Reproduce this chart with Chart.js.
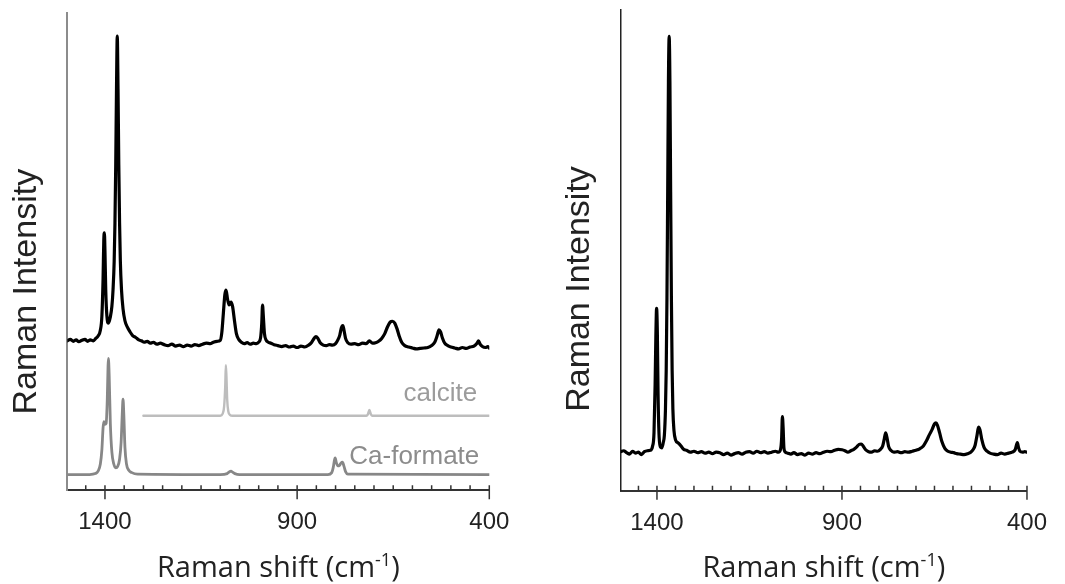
<!DOCTYPE html>
<html>
<head>
<meta charset="utf-8">
<script src="https://cdn.jsdelivr.net/npm/chart.js@4"></script>
<style>
  html, body { margin: 0; padding: 0; background: #fff; }
  #wrap { position: relative; width: 1065px; height: 584px; overflow: hidden; }
  canvas { position: absolute; top: 0; }
  #left { left: 0; }
  #right { left: 532px; }
</style>
</head>
<body>
<div id="wrap">
  <canvas id="left" width="532" height="584"></canvas>
  <canvas id="right" width="533" height="584"></canvas>
</div>
<script>
// tick positions (Raman shift, cm-1)
var majorTicks = [1400, 900, 400];
var minorTicks = [1450, 1350, 1300, 1250, 1200, 1150, 1100, 1050, 1000, 950,
                  850, 800, 750, 700, 650, 600, 550, 500, 450];

// left panel: sample spectrum, stacked above the references [shift, intensity]
var leftSample = [
  [1498, 31.3], [1490, 31.6], [1482, 31.2], [1475, 31.5], [1468, 31.1], [1460, 31.4],
  [1452, 31.6], [1445, 31.2], [1438, 31.5], [1430, 31.3], [1424, 31.8], [1418, 32.3],
  [1412, 33.5], [1408, 36.5], [1405, 44], [1403, 52.5], [1401.5, 53.9], [1400, 50],
  [1398, 42], [1395, 36.5], [1391, 35.0], [1386, 36.3], [1382, 38.5], [1379, 42],
  [1376, 48], [1374, 56], [1372, 68], [1370, 84], [1368, 95.1], [1366, 84],
  [1364, 68], [1362, 56], [1360, 48], [1357, 42], [1353, 38], [1348, 35.5],
  [1342, 34.2], [1335, 33.2], [1328, 32.4], [1320, 32.0], [1312, 31.5], [1305, 31.3],
  [1298, 31.0], [1290, 31.2], [1282, 30.8], [1274, 31.0], [1265, 30.6], [1256, 30.8],
  [1246, 30.5], [1236, 30.3], [1226, 30.6], [1216, 30.2], [1206, 30.4], [1196, 30.1],
  [1186, 30.4], [1176, 30.2], [1166, 30.5], [1156, 30.3], [1146, 30.6], [1136, 30.8],
  [1126, 30.7], [1118, 31.0], [1108, 31.2], [1100, 31.4], [1096, 33.0], [1092, 37],
  [1088, 41.0], [1085, 41.9], [1081, 40.0], [1077, 38.8], [1072, 39.4], [1068, 38.5],
  [1063, 35.5], [1058, 32.8], [1052, 31.6], [1045, 31.0], [1038, 30.7], [1030, 30.9],
  [1022, 30.6], [1014, 30.8], [1006, 30.7], [1000, 31.0], [995, 32.0], [992, 35.0],
  [990, 38.8], [988, 36.5], [985, 32.8], [981, 31.5], [975, 31.0], [968, 30.8],
  [960, 30.5], [950, 30.3], [940, 30.1], [930, 30.3], [920, 30.0], [910, 30.2],
  [900, 29.9], [890, 30.2], [880, 30.0], [870, 30.4], [862, 31.0], [856, 31.8],
  [851, 32.2], [846, 31.8], [840, 30.9], [832, 30.4], [824, 30.3], [816, 30.5],
  [808, 30.4], [800, 30.7], [794, 31.5], [789, 32.5], [785, 34.0], [781, 34.5],
  [778, 33.5], [774, 31.8], [768, 30.9], [760, 30.6], [750, 30.7], [740, 30.5],
  [730, 30.8], [720, 30.7], [712, 31.3], [704, 30.8], [696, 30.9], [688, 31.2],
  [680, 31.8], [672, 32.8], [665, 34.2], [658, 35.2], [652, 35.4], [646, 35.0],
  [640, 33.8], [634, 32.2], [628, 31.0], [620, 30.3], [610, 30.0], [600, 29.8],
  [590, 29.6], [580, 29.7], [570, 29.8], [560, 29.9], [550, 30.3], [542, 31.0],
  [536, 32.3], [531, 33.6], [527, 33.2], [522, 31.9], [516, 30.8], [508, 30.3],
  [500, 30.0], [490, 29.8], [480, 29.6], [470, 29.9], [460, 29.7], [450, 30.0],
  [440, 30.2], [432, 30.8], [428, 31.3], [424, 30.6], [418, 30.1], [410, 29.9],
  [404, 30.1], [400, 29.8]
];
var leftCalcite = [
  [1300, 15.6], [1100, 15.6], [1094, 16.0], [1090, 17.5], [1087, 22], [1085.5, 26.2],
  [1084, 24], [1082, 19], [1079, 16.5], [1075, 15.8], [1068, 15.6], [720, 15.6],
  [716, 15.9], [712, 16.8], [708, 15.9], [704, 15.6], [400, 15.6]
];
var leftFormate = [
  [1498, 3.3], [1440, 3.3], [1425, 3.5], [1418, 4.0], [1412, 5.5], [1408, 8.5],
  [1405, 13], [1403, 14.4], [1400, 13.8], [1397, 14.0], [1394, 19], [1392, 26],
  [1391, 27.6], [1389, 24], [1386, 14], [1382, 8], [1377, 5.5], [1372, 4.7],
  [1367, 5.0], [1362, 6.5], [1358, 10], [1355, 16], [1353, 19.1], [1351, 16],
  [1348, 9], [1344, 5.5], [1338, 4.2], [1330, 3.7], [1315, 3.4], [1100, 3.3],
  [1082, 3.5], [1076, 3.9], [1072, 4.0], [1068, 3.8], [1062, 3.5], [1050, 3.3],
  [820, 3.3], [810, 3.7], [806, 4.8], [803, 6.3], [801, 6.8], [798, 5.8],
  [794, 5.1], [790, 5.2], [786, 5.7], [782, 5.9], [778, 5.0], [774, 3.9],
  [768, 3.4], [400, 3.3]
];

// right panel: second sample spectrum
var rightSample = [
  [1498, 8.1], [1490, 8.3], [1482, 7.9], [1474, 7.6], [1466, 8.2], [1458, 7.8],
  [1450, 8.0], [1442, 7.5], [1434, 8.1], [1426, 8.3], [1418, 8.4], [1412, 9.2],
  [1408, 12], [1405, 22], [1403, 32], [1401, 37.9], [1399, 33], [1397, 20],
  [1394, 11], [1390, 9.0], [1387, 8.9], [1383, 10.0], [1380, 11.5], [1377, 17],
  [1375, 25], [1373, 40], [1371, 62], [1369, 85], [1367, 94.4], [1365, 85],
  [1363, 62], [1361, 40], [1359, 25], [1357, 17], [1354, 12.5], [1350, 10.6],
  [1342, 9.9], [1335, 9.3], [1328, 8.6], [1320, 8.4], [1310, 8.0], [1300, 8.2],
  [1290, 7.9], [1280, 8.1], [1270, 7.8], [1260, 8.0], [1250, 7.7], [1240, 8.0],
  [1230, 7.9], [1220, 7.5], [1210, 7.8], [1200, 7.4], [1190, 7.7], [1180, 7.9],
  [1170, 7.6], [1160, 8.0], [1150, 8.1], [1140, 7.8], [1130, 8.2], [1120, 7.9],
  [1110, 8.1], [1100, 7.8], [1090, 8.0], [1080, 8.2], [1072, 8.0], [1066, 8.6],
  [1063, 11], [1061, 15.4], [1059, 13], [1057, 9.0], [1054, 8.1], [1046, 7.8],
  [1038, 7.6], [1030, 7.9], [1020, 7.5], [1010, 7.7], [1000, 7.4], [990, 7.8],
  [980, 7.6], [970, 7.9], [960, 7.7], [950, 8.0], [940, 8.2], [930, 8.1],
  [920, 8.4], [910, 8.6], [900, 8.5], [892, 8.3], [884, 8.0], [876, 8.3],
  [868, 8.6], [860, 9.1], [854, 9.6], [848, 9.7], [842, 9.2], [836, 8.5],
  [828, 8.1], [820, 8.0], [812, 8.3], [804, 8.2], [796, 8.6], [790, 9.3],
  [786, 10.6], [782, 12.0], [778, 10.9], [774, 9.2], [768, 8.4], [760, 8.0],
  [750, 8.1], [740, 7.9], [730, 8.1], [720, 8.0], [710, 8.2], [700, 8.4],
  [690, 8.7], [680, 9.3], [672, 10.3], [664, 11.6], [656, 12.8], [650, 13.9],
  [646, 14.1], [642, 13.6], [636, 12.0], [630, 10.2], [622, 8.8], [614, 8.2],
  [606, 8.0], [598, 7.9], [590, 7.7], [580, 7.6], [570, 7.5], [560, 7.7],
  [552, 8.0], [545, 8.6], [540, 9.5], [535, 11.5], [531, 13.2], [527, 12.6],
  [522, 10.6], [516, 9.0], [508, 8.2], [500, 7.8], [490, 7.6], [480, 7.5],
  [470, 7.8], [460, 7.6], [450, 7.8], [440, 8.0], [432, 8.5], [428, 9.6],
  [426, 10.0], [423, 9.0], [419, 8.2], [412, 8.0], [406, 8.1], [400, 8.0]
];

function toPoints(pairs) {
    return pairs.map(function (p) { return { x: p[0], y: p[1] }; });
}

function line(pairs, color, width) {
    return {
        data: toPoints(pairs),
        borderColor: color,
        borderWidth: width,
        borderJoinStyle: 'round',
        borderCapStyle: 'round',
        // monotone keeps the curve through the points and avoids the fast path artefacts
        cubicInterpolationMode: 'monotone',
        pointRadius: 0,
        fill: false
    };
}

// minor/major tick marks, axis titles and the reference labels
var panelText = {
    id: 'panelText',
    afterDraw: function (chart, args, o) {
        var ctx = chart.ctx;
        var xs = chart.scales.x;
        var area = chart.chartArea;
        var axisY = area.bottom;
        ctx.save();
        ctx.strokeStyle = o.tickColor;
        ctx.lineWidth = 1.5;
        ctx.beginPath();
        minorTicks.forEach(function (v) {
            var px = xs.getPixelForValue(v);
            ctx.moveTo(px, axisY - 5);
            ctx.lineTo(px, axisY);
        });
        majorTicks.forEach(function (v) {
            var px = xs.getPixelForValue(v);
            ctx.moveTo(px, axisY - 5);
            ctx.lineTo(px, axisY + 9);
        });
        ctx.stroke();

        ctx.fillStyle = '#222';
        ctx.font = '34px "Liberation Sans", Arial, sans-serif';
        ctx.textAlign = 'center';
        ctx.textBaseline = 'alphabetic';
        ctx.save();
        ctx.translate(o.yTitle[0], o.yTitle[1]);
        ctx.rotate(-Math.PI / 2);
        ctx.fillText('Raman Intensity', 0, 0);
        ctx.restore();

        var big = '29px "Open Sans", sans-serif';
        var small = '18px "Open Sans", sans-serif';
        ctx.textAlign = 'left';
        ctx.font = big;
        var w1 = ctx.measureText('Raman shift (cm').width;
        var w3 = ctx.measureText(')').width;
        ctx.font = small;
        var w2 = ctx.measureText('-1').width;
        var x0 = (area.left + area.right) / 2 - (w1 + w2 + w3) / 2;
        ctx.font = big;
        ctx.fillText('Raman shift (cm', x0, o.xTitleY);
        ctx.font = small;
        ctx.fillText('-1', x0 + w1, o.xTitleY - 11);
        ctx.font = big;
        ctx.fillText(')', x0 + w1 + w2, o.xTitleY);

        (o.notes || []).forEach(function (n) {
            ctx.font = '26px "Liberation Sans", Arial, sans-serif';
            ctx.fillStyle = n.color;
            ctx.textAlign = 'right';
            ctx.fillText(n.text, area.right - n.dx, n.y);
        });
        ctx.restore();
    }
};

function makeChart(id, datasets, pad, xHeight, yBorder, extras) {
    return new Chart(document.getElementById(id), {
        type: 'line',
        data: { datasets: datasets },
        options: {
            responsive: false,
            animation: false,
            layout: { padding: pad },
            plugins: {
                legend: { display: false },
                tooltip: { enabled: false },
                panelText: extras
            },
            scales: {
                x: {
                    type: 'linear',
                    reverse: true,
                    min: 400,
                    max: 1498,
                    afterBuildTicks: function (scale) {
                        scale.ticks = majorTicks.map(function (v) { return { value: v }; });
                    },
                    afterFit: function (scale) { scale.height = xHeight; },
                    grid: { display: false, drawTicks: false },
                    border: { display: true, color: '#333', width: 2 },
                    ticks: {
                        autoSkip: false,
                        maxRotation: 0,
                        padding: 18,
                        color: '#222',
                        font: { family: '"Liberation Sans", Arial, sans-serif', size: 24 },
                        callback: function (value) { return String(value); }
                    }
                },
                y: {
                    type: 'linear',
                    min: 0,
                    max: 100,
                    afterFit: function (scale) { scale.width = 0; },
                    grid: { display: false, drawTicks: false },
                    border: yBorder,
                    ticks: { display: false }
                }
            }
        },
        plugins: [panelText]
    });
}

makeChart('left', [
    line(leftSample, '#000', 3.2),
    line(leftCalcite, '#bdbdbd', 2.4),
    line(leftFormate, '#878787', 2.8)
], { left: 67.3, right: 42.7, top: 12.7, bottom: 0 }, 93.7,
   { display: true, color: '#8c8c8c', width: 2 },
   {
       tickColor: '#333',
       yTitle: [36, 291.7],
       xTitleY: 576.5,
       notes: [
           { text: 'calcite', color: '#9c9c9c', dx: 12, y: 401 },
           { text: 'Ca-formate', color: '#8c8c8c', dx: 10, y: 464 }
       ]
   });

makeChart('right', [
    line(rightSample, '#000', 3.2)
], { left: 88.7, right: 23.5, top: 9.3, bottom: 0 }, 93.3,
   { display: true, color: '#222', width: 1.5 },
   {
       tickColor: '#333',
       yTitle: [57, 289],
       xTitleY: 576.5
   });
</script>
</body>
</html>
